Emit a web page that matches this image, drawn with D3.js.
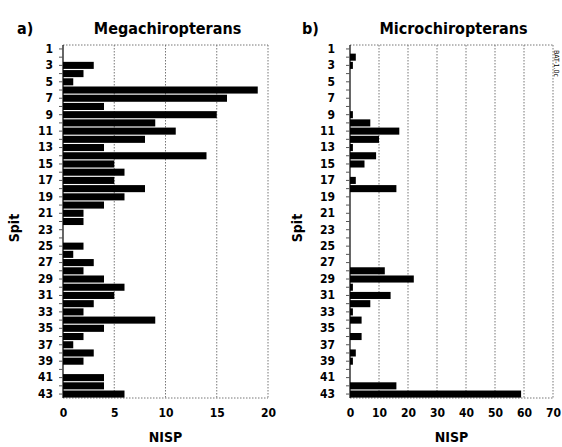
<!DOCTYPE html>
<html>
<head>
<meta charset="utf-8">
<script src="https://cdn.jsdelivr.net/npm/d3@7"></script>
<style>
  body { margin: 0; background: #fff; }
  text { font-family: "Liberation Sans Narrow", "DejaVu Sans Condensed", "Roboto Condensed", sans-serif; font-weight: bold; fill: #000; }
</style>
</head>
<body>
<script>
const WIDTH = 562;
const HEIGHT = 447;

const spits = [1, 2, 3, 4, 5, 6, 7, 8, 9, 10, 11, 12, 13, 14, 15, 16, 17, 18, 19, 20, 21, 22,
               23, 24, 25, 26, 27, 28, 29, 30, 31, 32, 33, 34, 35, 36, 37, 38, 39, 40, 41, 42, 43];
const spitLabels = [1, 3, 5, 7, 9, 11, 13, 15, 17, 19, 21, 23, 25, 27, 29, 31, 33, 35, 37, 39, 41, 43];

const megaNISP = [0, 0, 3, 2, 1, 19, 16, 4, 15, 9, 11, 8, 4, 14, 5, 6, 5, 8, 6, 4, 2, 2,
                  0, 0, 2, 1, 3, 2, 4, 6, 5, 3, 2, 9, 4, 2, 1, 3, 2, 0, 4, 4, 6];
const microNISP = [0, 2, 1, 0, 0, 0, 0, 0, 1, 7, 17, 10, 1, 9, 5, 0, 2, 16, 0, 0, 0, 0,
                   0, 0, 0, 0, 0, 12, 22, 1, 14, 7, 1, 4, 0, 4, 0, 2, 1, 0, 0, 16, 59];

const megaTicks = [0, 5, 10, 15, 20];
const microTicks = [0, 10, 20, 30, 40, 50, 60, 70];

const TOP = 45, BOTTOM = 398;

const svg = d3.select("body")
              .append("svg")
              .attr("width", WIDTH)
              .attr("height", HEIGHT);

const drawPanel = (p) => {
  const x = d3.scaleLinear()
              .domain([0, p.ticks[p.ticks.length - 1]])
              .range([p.left, p.right]);
  const y = d3.scaleBand()
              .domain(spits)
              .range([TOP, BOTTOM])
              .paddingInner(0.14)
              .paddingOuter(0.05);

  const g = svg.append("g");

  // dotted grid + frame
  g.selectAll("line.grid")
   .data(p.ticks.slice(1))
   .join("line")
   .attr("class", "grid")
   .attr("x1", d => x(d)).attr("x2", d => x(d))
   .attr("y1", TOP).attr("y2", BOTTOM)
   .attr("stroke", "#777")
   .attr("stroke-width", 1)
   .attr("stroke-dasharray", "1.5,1.5");

  [TOP, BOTTOM].forEach(yy => {
    g.append("line")
     .attr("x1", x(0)).attr("x2", x(p.ticks[p.ticks.length - 1]))
     .attr("y1", yy).attr("y2", yy)
     .attr("stroke", "#777")
     .attr("stroke-dasharray", "1.5,1.5");
  });

  // bars
  g.selectAll("rect")
   .data(spits.map((s, i) => ({ spit: s, v: p.values[i] })).filter(d => d.v > 0))
   .join("rect")
   .attr("x", x(0))
   .attr("y", d => y(d.spit))
   .attr("width", d => x(d.v) - x(0))
   .attr("height", y.bandwidth())
   .attr("fill", "#000");

  // left axis
  const yAxis = d3.axisLeft(y)
                  .tickSize(4)
                  .tickPadding(p.yPad)
                  .tickFormat(d => spitLabels.includes(d) ? d : "");
  const ya = g.append("g")
              .attr("transform", "translate(" + x(0) + ",0)")
              .call(yAxis);
  ya.select(".domain").attr("stroke", "#000").attr("stroke-width", 1.2)
    .attr("d", "M0," + TOP + "V" + BOTTOM);
  ya.selectAll(".tick line").attr("stroke", "#555");
  ya.selectAll("text").style("font-size", "12px");

  // bottom axis labels
  const xAxis = d3.axisBottom(x)
                  .tickValues(p.ticks)
                  .tickSize(0)
                  .tickPadding(10);
  const xa = g.append("g")
              .attr("transform", "translate(0," + BOTTOM + ")")
              .call(xAxis);
  xa.select(".domain").remove();
  xa.selectAll("text").style("font-size", "12px");

  // titles
  g.append("text")
   .attr("x", p.tagX).attr("y", 34)
   .style("font-size", "16px")
   .text(p.tag);
  g.append("text")
   .attr("x", (p.left + p.right) / 2 + 2).attr("y", 34)
   .attr("text-anchor", "middle")
   .style("font-size", "16px")
   .text(p.title);
  g.append("text")
   .attr("x", (p.left + p.right) / 2).attr("y", 442)
   .attr("text-anchor", "middle")
   .style("font-size", "14px")
   .text("NISP");
  g.append("text")
   .attr("transform", "translate(" + p.spitX + ",228) rotate(-90)")
   .attr("text-anchor", "middle")
   .style("font-size", "14px")
   .text("Spit");
};

drawPanel({ values: megaNISP, ticks: megaTicks, left: 63, right: 268,
            title: "Megachiropterans", tag: "a)", tagX: 17, spitX: 19, yPad: 6 });
drawPanel({ values: microNISP, ticks: microTicks, left: 350, right: 553,
            title: "Microchiropterans", tag: "b)", tagX: 302, spitX: 302, yPad: 11 });

// small vertical file tag at right edge
svg.append("text")
   .attr("transform", "translate(554,50) rotate(90)")
   .style("font-size", "7px")
   .style("font-weight", "normal")
   .text("BAT-1.0c");
</script>
</body>
</html>
